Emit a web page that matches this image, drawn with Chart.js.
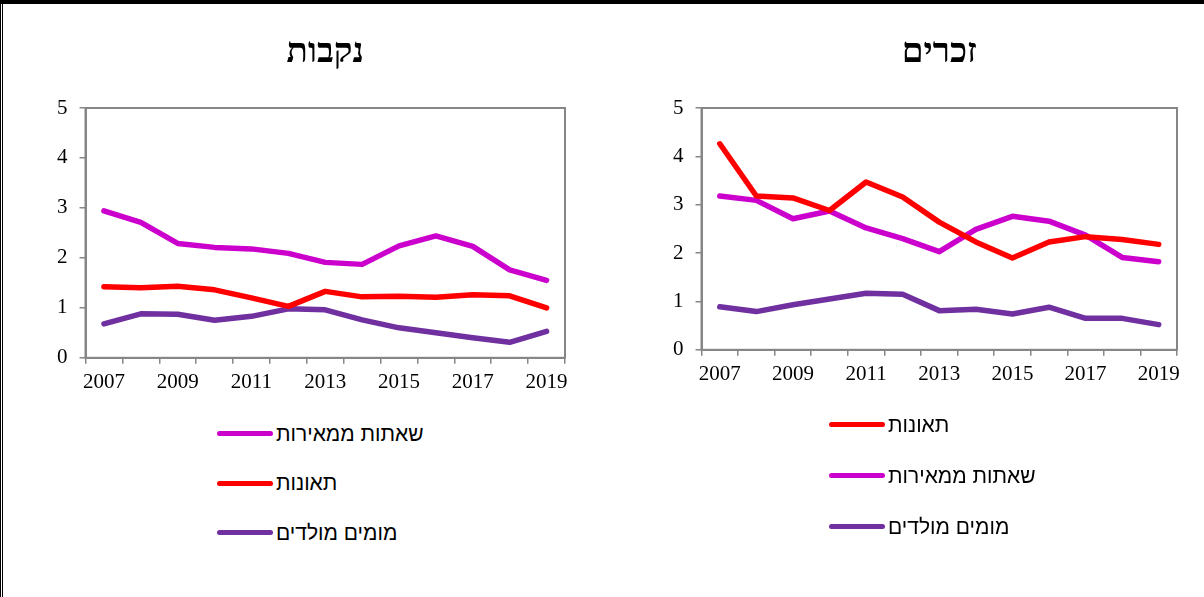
<!DOCTYPE html>
<html lang="he">
<head>
<meta charset="utf-8">
<title>תמותה לפי סיבה</title>
<script src="https://cdn.jsdelivr.net/npm/chart.js@4.4.1/dist/chart.umd.min.js"></script>
<style>
  html, body { margin: 0; padding: 0; background: #fff; }
  #page { position: relative; width: 1204px; height: 597px; overflow: hidden; background: #fff; }
  #page canvas { position: absolute; top: 0; }
  .frame-top { position: absolute; left: 0; top: 0; width: 1204px; height: 4px; background: #000; }
  .frame-left { position: absolute; left: 0; top: 0; width: 0; height: 597px; border-left: 3px double #000; }
  .legend { position: absolute; font: 21px "Liberation Sans", Arial, sans-serif; color: #000; }
  .legend .item { display: flex; align-items: center; white-space: nowrap; }
  .legend .swatch { display: inline-block; width: 56px; height: 5px; border-radius: 3px; margin-right: 3px; }
</style>
</head>
<body>
<div id="page">
  <canvas id="female" width="600" height="404" style="left:0"></canvas>
  <canvas id="male" width="604" height="405" style="left:600px"></canvas>
  <div id="femaleLegend" class="legend" style="left:217px; top:409px"></div>
  <div id="maleLegend" class="legend" style="left:829px; top:399px"></div>
  <div class="frame-top"></div>
  <div class="frame-left"></div>
</div>
<script>
const years = ['2007', '2008', '2009', '2010', '2011', '2012', '2013',
               '2014', '2015', '2016', '2017', '2018', '2019'];

const cancerLabel = 'שאתות ממאירות';
const accidentsLabel = 'תאונות';
const defectsLabel = 'מומים מולדים';

// girls (נקבות)
const femaleCancer    = [2.94, 2.71, 2.29, 2.21, 2.18, 2.09, 1.91, 1.87, 2.24, 2.44, 2.23, 1.76, 1.55];
const femaleAccidents = [1.42, 1.40, 1.43, 1.36, 1.20, 1.03, 1.33, 1.22, 1.23, 1.21, 1.26, 1.24, 1.00];
const femaleDefects   = [0.68, 0.88, 0.87, 0.75, 0.83, 0.98, 0.96, 0.76, 0.60, 0.50, 0.40, 0.31, 0.53];

// boys (זכרים)
const maleAccidents = [4.26, 3.18, 3.14, 2.88, 3.47, 3.16, 2.64, 2.23, 1.90, 2.23, 2.34, 2.28, 2.18];
const maleCancer    = [3.18, 3.09, 2.71, 2.87, 2.52, 2.30, 2.03, 2.49, 2.76, 2.66, 2.37, 1.91, 1.82];
const maleDefects   = [0.89, 0.79, 0.93, 1.05, 1.17, 1.15, 0.81, 0.84, 0.74, 0.88, 0.65, 0.65, 0.52];

const MAGENTA = '#CC00CC';
const RED = '#FF0000';
const PURPLE = '#7030A0';
const AXIS_GREY = '#868686';

// grey box around the plot area, like the office-style chart frame
const plotFrame = {
  id: 'plotFrame',
  beforeDatasetsDraw(chart, args, opts) {
    const { ctx, chartArea: a } = chart;
    ctx.save();
    ctx.strokeStyle = opts.color;
    ctx.lineWidth = opts.width;
    ctx.strokeRect(a.left, a.top, a.right - a.left, a.bottom - a.top);
    ctx.restore();
  }
};

function series(label, data, color) {
  return { label, data, borderColor: color, backgroundColor: color };
}

function makePanel(canvasId, title, datasets, padding, titlePadding) {
  const tickFont = { family: '"Liberation Serif", "Times New Roman", serif', size: 21 };
  return new Chart(document.getElementById(canvasId), {
    type: 'line',
    data: { labels: years, datasets },
    plugins: [plotFrame],
    options: {
      responsive: false,
      animation: false,
      layout: { padding },
      elements: {
        line: { borderWidth: 5.5, borderCapStyle: 'round', borderJoinStyle: 'round', tension: 0 },
        point: { radius: 0, hoverRadius: 0 }
      },
      plugins: {
        legend: { display: false },
        tooltip: { enabled: false },
        plotFrame: { color: AXIS_GREY, width: 2 },
        title: {
          display: true,
          text: title,
          fullSize: false,
          color: '#000',
          font: { family: '"Liberation Serif", "Times New Roman", serif', size: 35, weight: 'bold' },
          padding: titlePadding
        }
      },
      scales: {
        x: {
          offset: true,
          grid: { offset: true, drawOnChartArea: false, tickLength: 6, color: AXIS_GREY, lineWidth: 1.5 },
          border: { color: AXIS_GREY, width: 2 },
          ticks: {
            autoSkip: false,
            maxRotation: 0,
            padding: 6,
            color: '#000',
            font: tickFont,
            callback: function (value, index) {
              return index % 2 === 0 ? this.getLabelForValue(value) : '';
            }
          }
        },
        y: {
          min: 0,
          max: 5,
          grid: { drawOnChartArea: false, tickLength: 6, color: AXIS_GREY, lineWidth: 1.5 },
          border: { color: AXIS_GREY, width: 2 },
          ticks: { stepSize: 1, padding: 12, color: '#000', font: tickFont }
        }
      }
    }
  });
}

function buildLegend(chart, el, rowHeight) {
  chart.data.datasets.forEach((ds) => {
    const row = document.createElement('div');
    row.className = 'item';
    row.style.height = rowHeight + 'px';
    const swatch = document.createElement('span');
    swatch.className = 'swatch';
    swatch.style.background = ds.borderColor;
    const text = document.createElement('span');
    text.textContent = ds.label;
    row.append(swatch, text);
    el.append(row);
  });
}

const femaleChart = makePanel('female', 'נקבות', [
  series(cancerLabel, femaleCancer, MAGENTA),
  series(accidentsLabel, femaleAccidents, RED),
  series(defectsLabel, femaleDefects, PURPLE)
], { left: 45, right: 35, top: 0, bottom: 3 }, { top: 32, bottom: 34 });

const maleChart = makePanel('male', 'זכרים', [
  series(accidentsLabel, maleAccidents, RED),
  series(cancerLabel, maleCancer, MAGENTA),
  series(defectsLabel, maleDefects, PURPLE)
], { left: 61, right: 27, top: 0, bottom: 12 }, { top: 32, bottom: 34 });

buildLegend(femaleChart, document.getElementById('femaleLegend'), 49.5);
buildLegend(maleChart, document.getElementById('maleLegend'), 51);
</script>
</body>
</html>
